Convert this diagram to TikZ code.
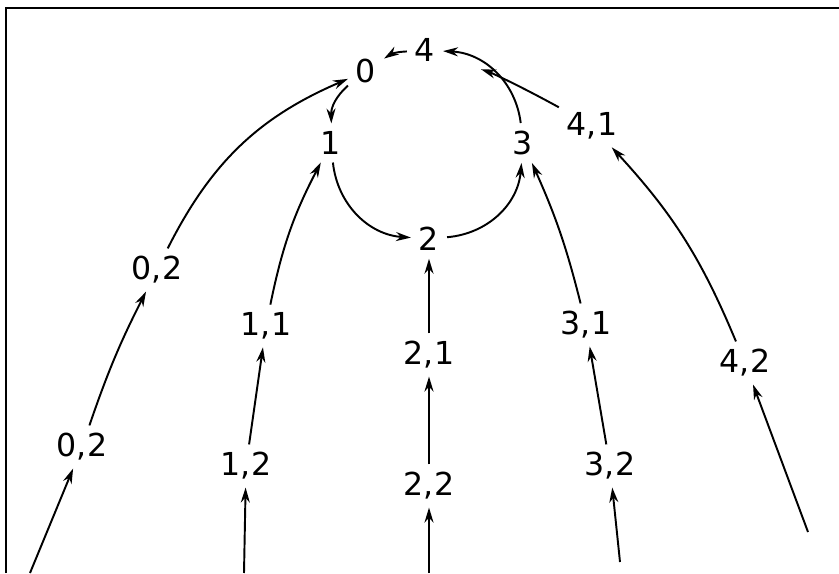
\documentclass[tikz,border=0pt]{standalone}
\usepackage{fontspec}
\setmainfont{DejaVu Sans}
\usetikzlibrary{arrows.meta}
\begin{document}
\begin{tikzpicture}[
  snode/.style={inner sep=4pt, font=\fontsize{18}{21}\selectfont},
  arr/.style={-{Stealth[length=3mm,width=1.8mm]}},
  line width=1.1pt
]
  \useasboundingbox (0,0) rectangle (16.78,11.46);
  % ramecek (jen horni a leva strana)
  \coordinate (fa) at (0.12,0);
  \coordinate (fb) at (0.12,11.30);
  \coordinate (fc) at (16.78,11.30);
  \draw[line width=0.8pt] (fa) -- (fb) -- (fc);

  % cyklus
  \node[snode] (0) at (7.32,10.04) {0};
  \node[snode] (4) at (8.50,10.46) {4};
  \node[snode] (1) at (6.62,8.60) {1};
  \node[snode] (3) at (10.46,8.60) {3};
  \node[snode] (2) at (8.58,6.68) {2};

  % vetve
  \node[snode] (41) at (11.84,8.94) {4,1};
  \node[snode] (42) at (14.90,4.20) {4,2};
  \node[snode] (02a) at (3.14,6.06) {0,2};
  \node[snode] (02b) at (1.64,2.52) {0,2};
  \node[snode] (11) at (5.32,4.94) {1,1};
  \node[snode] (12) at (4.92,2.14) {1,2};
  \node[snode] (21) at (8.58,4.36) {2,1};
  \node[snode] (22) at (8.58,1.74) {2,2};
  \node[snode] (31) at (11.72,4.96) {3,1};
  \node[snode] (32) at (12.20,2.14) {3,2};

  % volne konce dole
  \coordinate (s0) at (0.60,0);
  \coordinate (s1) at (4.88,0);
  \coordinate (s2) at (8.58,0);
  \coordinate (s3) at (12.40,0.22);
  \coordinate (s4) at (16.16,0.82);

  \draw[arr] (4) to[bend right=15] (0);
  \draw[arr] (0) to[bend right=25] (1);
  \draw[arr] (1) to[bend right=40] (2);
  \draw[arr] (2) to[bend right=40] (3);
  \draw[arr] (3) to[bend right=40] (4);

  \draw[arr, shorten >=0.8cm] (41) to[bend right=5] (4);
  \draw[arr] (42) to[bend right=10] (41);
  \draw[arr] (s4) -- (42);
  \draw[arr] (31) to[bend right=5] (3);
  \draw[arr] (32) -- (31);
  \draw[arr] (s3) -- (32);
  \draw[arr] (21) -- (2);
  \draw[arr] (22) -- (21);
  \draw[arr] (s2) -- (22);
  \draw[arr] (11) to[bend left=8] (1);
  \draw[arr] (12) -- (11);
  \draw[arr] (s1) -- (12);
  \draw[arr] (02a) to[bend left=20] (0);
  \draw[arr] (02b) to[bend left=4] (02a);
  \draw[arr] (s0) -- (02b);
\end{tikzpicture}
\end{document}
